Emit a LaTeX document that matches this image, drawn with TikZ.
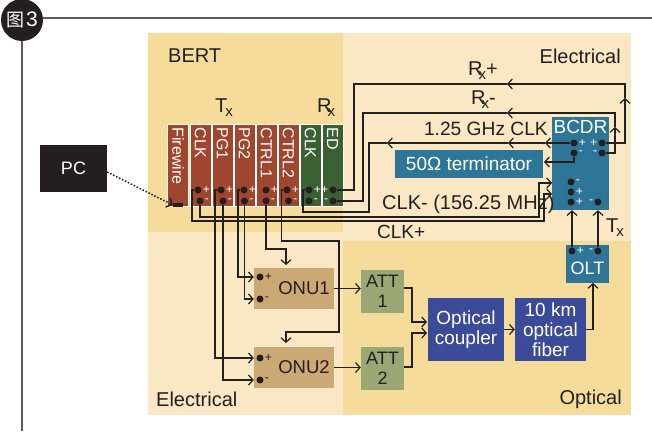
\documentclass[tikz,border=0pt]{standalone}
\usepackage{fontspec}
\setmainfont{Liberation Sans}
\newfontfamily\cjk{Noto Sans CJK SC}
\usetikzlibrary{arrows.meta}
\definecolor{inkblack}{HTML}{231F20}
\definecolor{rulegray}{HTML}{5A5A5A}
\definecolor{bgdark}{HTML}{F6DC9B}
\definecolor{bglight}{HTML}{FAE7C4}
\definecolor{txred}{HTML}{A0462E}
\definecolor{rxgreen}{HTML}{3A6034}
\definecolor{teal}{HTML}{2E7698}
\definecolor{onutan}{HTML}{CBA874}
\definecolor{attgreen}{HTML}{9BA876}
\definecolor{optblue}{HTML}{3B4A99}
\newcommand{\fsz}[1]{\fontsize{#1}{20}\selectfont}
\newcommand{\subx}{\kern-2pt\raisebox{-4pt}{\fontsize{15}{15}\selectfont x}}
\newcommand{\subr}{\kern-4pt\raisebox{-4pt}{\fontsize{15}{15}\selectfont x}}

\begin{document}
\begin{tikzpicture}[
    x=1pt, y=-1pt,
    >={Straight Barb[length=4.5pt,width=10pt]},
    label distance=1pt,
    wire/.style={draw=inkblack, line width=1.2pt},
    dot/.style={circle, fill=inkblack, inner sep=0pt, minimum size=7pt},
    pm/.style={font=\fsz{12}, text=white, inner sep=0pt},
    pmk/.style={font=\fsz{12}, text=inkblack, inner sep=0pt},
    lab/.style={font=\fsz{20}, text=inkblack, inner sep=0pt},
    modbox/.style={rotate=-90, draw=white, line width=0.8pt, text=white, font=\fsz{16},
                   text width=76pt, inner xsep=3pt, inner ysep=0pt,
                   minimum height=21pt, align=left},
    box/.style={text=white, inner sep=0pt, align=center, font=\fsz{19}},
    onubox/.style={fill=onutan, text=inkblack, inner sep=0pt, font=\fsz{18.5},
                   minimum width=80pt, minimum height=41pt},
    attbox/.style={fill=attgreen, text=inkblack, inner sep=0pt, align=center, font=\fsz{18},
                   minimum width=43pt, minimum height=43pt}
  ]
    \useasboundingbox (0,0) rectangle (652,431);

    % backgrounds
    \fill[bglight] (148,33) rectangle (631,415);
    \fill[bgdark] (148,33) rectangle (343,232);
    \fill[bgdark] (343,241) rectangle (631,415);

    % header
    \coordinate (ruleend) at (652,18);
    \coordinate (rulefoot) at (22,431);
    \node[circle, fill=inkblack, text=white, inner sep=0pt, minimum size=42pt] (fig) at (22,20)
      {\fsz{18}{\cjk 图}\kern2pt\fsz{21}3};
    \draw[rulegray, line width=1.1pt] (ruleend -| fig.east) -- (ruleend);
    \draw[rulegray, line width=1.1pt] (fig) -- (rulefoot);

    % region labels
    \node[lab, anchor=west] (bertlab) at (168,56) {BERT};
    \node[lab, anchor=east] (ellab1) at (621,56) {Electrical};
    \node[lab, anchor=west] (ellab2) at (156,399) {Electrical};
    \node[lab, anchor=east] (optlab) at (622,399) {Optical};

    \node[fill=inkblack, text=white, inner sep=0pt, minimum width=67pt, minimum height=47pt, font=\fsz{18}]
      (pc) at (73.5,168.5) {PC};

    % BERT modules
    \node[modbox, fill=txred] (firewire) at (178,165.5) {Firewire};
    \node[modbox, fill=txred] (clk) at (200.5,165.5) {CLK};
    \node[modbox, fill=txred] (pgone) at (222.5,165.5) {PG1};
    \node[modbox, fill=txred] (pgtwo) at (244.5,165.5) {PG2};
    \node[modbox, fill=txred] (ctrlone) at (266.5,165.5) {CTRL1};
    \node[modbox, fill=txred] (ctrltwo) at (288.5,165.5) {CTRL2};
    \node[modbox, fill=rxgreen] (clkrx) at (310.5,165.5) {CLK};
    \node[modbox, fill=rxgreen] (ed) at (332.5,165.5) {ED};
    \node[fill=inkblack, inner sep=0pt, minimum width=10pt, minimum height=3.5pt] (fwport) at (178,205) {};

    \node[lab, anchor=west] (txlab) at (215,108) {T\subx};
    \node[lab, anchor=west] (rxlab) at (317,108) {R\subr};

    % dots on the modules
    \node[dot, label={[pm]right:+}] (clkp) at (198,190) {};
    \node[dot, label={[pm]right:-}] (clkm) at (200,201) {};
    \node[dot, label={[pm]right:+}] (pgonep) at (221,190) {};
    \node[dot, label={[pm]right:-}] (pgonem) at (223,201) {};
    \node[dot, label={[pm]right:+}] (pgtwop) at (244,190) {};
    \node[dot, label={[pm]right:-}] (pgtwom) at (244.5,201) {};
    \node[dot, label={[pm]right:+}] (ctrlonep) at (266,190) {};
    \node[dot, label={[pm]right:-}] (ctrlonem) at (266,201) {};
    \node[dot, label={[pm]right:+}] (ctrltwop) at (287,190) {};
    \node[dot, label={[pm]right:-}] (ctrltwom) at (288.5,201) {};
    \node[dot, label={[pm]right:+}] (clkrxp) at (309,190) {};
    \node[dot, label={[pm]right:-}] (clkrxm) at (309,201) {};
    \node[dot, label={[pm]left:+}] (edp) at (333,190) {};
    \node[dot, label={[pm]left:-}] (edm) at (333,201) {};

    % right hand boxes
    \node[fill=teal, inner sep=0pt, minimum width=57pt, minimum height=93pt] (bcdr) at (580.5,163.5) {};
    \node[box] (bcdrlab) at (580.5,127) {BCDR};
    \node[box, fill=teal, minimum width=148pt, minimum height=28pt] (term) at (469,164) {50Ω terminator};
    \node[fill=teal, inner sep=0pt, minimum width=43pt, minimum height=38pt] (olt) at (587.5,264) {};
    \node[box, font=\fsz{18}] (oltlab) at (587.5,268) {OLT};
    \node[box, fill=optblue, minimum width=76pt, minimum height=63pt] (coupler) at (466,329.5) {Optical\\coupler};
    \node[box, fill=optblue, minimum width=71pt, minimum height=63pt] (fiber) at (550.5,329.5) {10 km\\optical\\fiber};

    \node[dot, label={[pm]right:+}] (bcdrlp) at (574,143) {};
    \node[dot, label={[pm]right:-}] (bcdrlm) at (574,153) {};
    \node[dot, label={[pm]left:+}] (bcdrrp) at (602,143) {};
    \node[dot, label={[pm]left:-}] (bcdrrm) at (602,153) {};
    \node[dot, label={[pm]right:-}] (bcdrin) at (571,182) {};
    \node[dot, label={[pm]right:+}] (bcdrinb) at (571,192) {};
    \node[dot, label={[pm]right:+}] (bcdrtxp) at (571,202) {};
    \node[dot, label={[pm]left:-}] (bcdrtxm) at (598,202) {};
    \node[dot, label={[pm]right:+}] (oltp) at (572,251) {};
    \node[dot, label={[pm]left:-}] (oltm) at (598,251) {};

    % ONUs and attenuators
    \node[onubox] (onuone) at (294,288.5) {\hspace*{20pt}ONU1};
    \node[onubox] (onutwo) at (294,367.5) {\hspace*{20pt}ONU2};
    \node[dot, label={[pmk]right:+}] (onuonep) at (260,277) {};
    \node[dot, label={[pmk]right:-}] (onuonem) at (260,299) {};
    \node[dot, label={[pmk]right:+}] (onutwop) at (260,358) {};
    \node[dot, label={[pmk]right:-}] (onutwom) at (260,380) {};
    \node[attbox] (attone) at (382.5,291.5) {ATT\\1};
    \node[attbox] (atttwo) at (382.5,368.5) {ATT\\2};

    % free ends and mid-line arrows
    \coordinate (onuonetop) at (286,265);
    \coordinate (onutwotop) at (286,343);
    \coordinate (bcdrclkp) at (552,194);
    \coordinate (bcdrclkm) at (552,183);
    \coordinate (termin) at (544,162);
    \coordinate (rxpup) at (625,98);
    \coordinate (rxpleft) at (507,84);
    \coordinate (rxmup) at (615,127);
    \coordinate (rxmleft) at (507,113);
    \coordinate (clkleftA) at (545,143);
    \coordinate (clkleftB) at (508,143);
    \coordinate (clkleftC) at (387,143);
    \coordinate (couplerA) at (427,322);
    \coordinate (couplerB) at (427,333);

    % wires
    \draw[wire, ->] (clkp) -- (192,190) -- (192,221) -- (544,221) -- (544,194) -- (bcdrclkp);
    \draw[wire, ->] (clkm) -- (200,217) -- (539,217) -- (539,183) -- (bcdrclkm);
    \draw[wire, ->] (pgonep) -- (215,190) -- (215,358) -- (onutwo.west |- onutwop);
    \draw[wire, ->] (pgonem) -- (223,380) -- (onutwo.west |- onutwom);
    \draw[wire, ->] (pgtwop) -- (238,190) -- (238,277) -- (onuone.west |- onuonep);
    \draw[wire, ->] (pgtwom) -- (244.5,299) -- (onuone.west |- onuonem);
    \draw[wire, ->] (ctrlonem) -- (266,249) -- (286,249) -- (onuonetop);
    \draw[wire, ->] (ctrltwop) -- (281.5,190) -- (281.5,241) -- (339,241) -- (339,332) -- (286,332) -- (onutwotop);

    \draw[wire, ->] (bcdrrp) -- (625,143) -- (rxpup);
    \draw[wire, ->] (rxpup) -- (625,84) -- (rxpleft);
    \draw[wire] (rxpleft) -- (354,84) -- (354,190) -- (edp);
    \draw[wire, ->] (bcdrrm) -- (615,153) -- (rxmup);
    \draw[wire, ->] (rxmup) -- (615,113) -- (rxmleft);
    \draw[wire] (rxmleft) -- (363,113) -- (363,201) -- (edm);

    \draw[wire, ->] (bcdrlp) -- (clkleftA);
    \draw[wire, ->] (clkleftA) -- (clkleftB);
    \draw[wire, ->] (clkleftB) -- (clkleftC);
    \draw[wire] (clkleftC) -- (369,143) -- (369,212) -- (303,212) -- (303,190) -- (clkrxp);
    \draw[wire, ->] (bcdrlm) -- (574,162) -- (termin);

    \draw[wire, ->] (oltp) -- (oltp |- bcdr.south);
    \draw[wire, ->] (oltm) -- (oltm |- bcdr.south);

    \draw[wire, ->] (onuone) -- (onuone -| attone.west);
    \draw[wire, ->] (onutwo) -- (onutwo -| atttwo.west);
    \draw[wire, ->] (attone.east |- 0,288) -- (412,288) -- (412,322) -- (couplerA);
    \draw[wire, ->] (atttwo.east |- 0,367) -- (412,367) -- (412,333) -- (couplerB);
    \draw[wire, ->] (coupler) -- (fiber);
    \draw[wire, ->] (fiber) -- (593,329.5) -- (593,283);

    \draw[inkblack, line width=1.5pt, dash pattern=on 1.5pt off 1.8pt, ->] ([yshift=-3.5pt]pc.east) -- (fwport.west);

    % connector labels
    \node[lab, anchor=west] (rxplab) at (468,71) {R\subr+};
    \node[lab, anchor=west] (rxmlab) at (471,100) {R\subr-};
    \node[lab, anchor=east, font=\fsz{19.2}] (clklab) at (548,129) {1.25 GHz CLK};
    \node[lab, anchor=west, font=\fsz{20}] (clkmlab) at (382,204) {CLK- (156.25 MHz)};
    \node[lab, anchor=west, font=\fsz{19}] (clkplab) at (377,232) {CLK+};
    \node[lab, anchor=west] (oltxlab) at (606,228) {T\subx};
  \end{tikzpicture}
\end{document}
